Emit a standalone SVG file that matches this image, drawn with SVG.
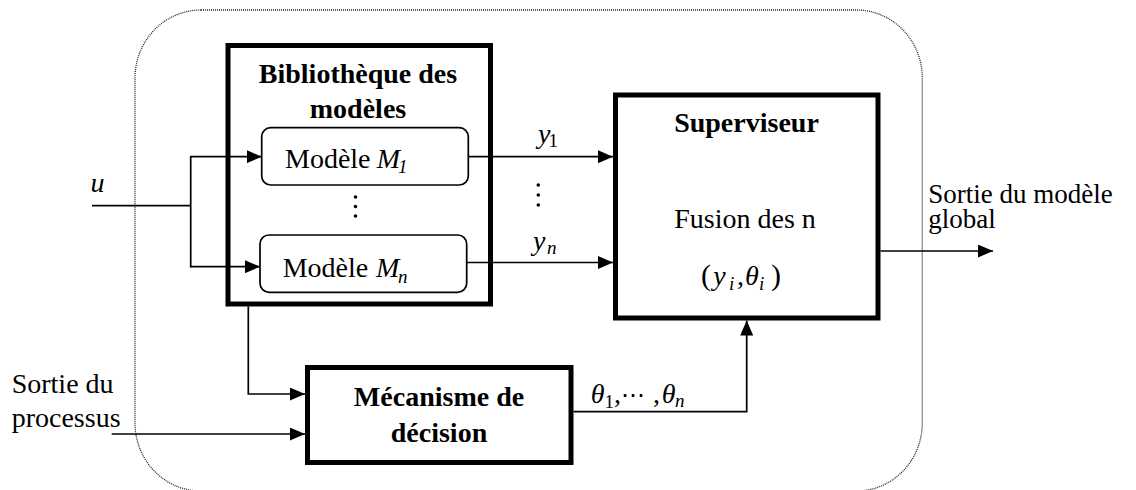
<svg xmlns="http://www.w3.org/2000/svg" width="1136" height="490" viewBox="0 0 1136 490">
<defs>
<marker id="arr" viewBox="0 0 15 13" refX="15" refY="6.5" markerWidth="15" markerHeight="13" markerUnits="userSpaceOnUse" orient="auto"><path d="M0,0 L15,6.5 L0,13 z" fill="#000"/></marker>
</defs>
<rect id="container" x="135" y="10" width="787.3" height="481" rx="66" ry="68" fill="none" stroke="#222" stroke-width="1.3" stroke-dasharray="1 1"/>
<g id="bibliotheque">
<rect x="228" y="45.5" width="262.5" height="258.5" fill="#fff" stroke="#000" stroke-width="5"/>
<text font-family="Liberation Serif" font-size="28" font-weight="bold" x="358" y="83" text-anchor="middle">Bibliothèque des</text>
<text font-family="Liberation Serif" font-size="28" font-weight="bold" x="358" y="118" text-anchor="middle">modèles</text>
</g>
<g id="modele1">
<rect x="261.7" y="127.7" width="206.6" height="57.3" rx="9" fill="#fff" stroke="#000" stroke-width="1.7"/>
<text font-family="Liberation Serif" font-size="28" x="285" y="167.7">Modèle <tspan font-style="italic" x="376.7">M</tspan><tspan font-style="italic" font-size="19" x="398" y="173">1</tspan></text>
</g>
<g id="dots1" fill="#000">
<circle cx="355.5" cy="197" r="1.8"/>
<circle cx="355.5" cy="206.5" r="1.8"/>
<circle cx="355.5" cy="216" r="1.8"/>
</g>
<g id="modelen">
<rect x="260" y="235" width="206.7" height="57.3" rx="9" fill="#fff" stroke="#000" stroke-width="1.7"/>
<text font-family="Liberation Serif" font-size="28" x="282.7" y="276.7">Modèle <tspan font-style="italic" x="376">M</tspan><tspan font-style="italic" font-size="19" x="398" y="282.7">n</tspan></text>
</g>
<g id="superviseur">
<rect x="615.5" y="95" width="262.5" height="223" fill="#fff" stroke="#000" stroke-width="5"/>
<text font-family="Liberation Serif" font-size="28" font-weight="bold" x="746.5" y="132.3" text-anchor="middle">Superviseur</text>
<text font-family="Liberation Serif" font-size="28" x="745" y="228.3" text-anchor="middle">Fusion des n</text>
<text font-family="Liberation Serif" font-size="28" y="285"><tspan x="701" font-size="30">(</tspan><tspan font-style="italic" x="713.3">y</tspan><tspan font-style="italic" font-size="19" x="729" y="290">i</tspan><tspan x="737" y="285">,</tspan><tspan font-style="italic" x="745">θ</tspan><tspan font-style="italic" font-size="19" x="759" y="290">i</tspan><tspan x="771" y="285" font-size="30">)</tspan></text>
</g>
<g id="mecanisme">
<rect x="307.5" y="367.5" width="263.5" height="95" fill="#fff" stroke="#000" stroke-width="5"/>
<text font-family="Liberation Serif" font-size="28" font-weight="bold" x="439" y="406" text-anchor="middle">Mécanisme de</text>
<text font-family="Liberation Serif" font-size="28" font-weight="bold" x="439" y="442" text-anchor="middle">décision</text>
</g>
<g id="labels">
<text font-family="Liberation Serif" font-size="28" font-style="italic" x="90.5" y="191.7">u</text>
<text font-family="Liberation Serif" font-size="28" font-style="italic" x="538" y="143">y<tspan font-size="19" font-style="normal" x="548.5" y="147">1</tspan></text>
<g id="dots2" fill="#000">
<circle cx="538.3" cy="185" r="1.8"/>
<circle cx="538.3" cy="195" r="1.8"/>
<circle cx="538.3" cy="205" r="1.8"/>
</g>
<text font-family="Liberation Serif" font-size="28" font-style="italic" x="533" y="250">y<tspan font-size="19" x="547" y="254">n</tspan></text>
<text font-family="Liberation Serif" font-size="28" y="403.3"><tspan font-style="italic" x="590.7">θ</tspan><tspan font-size="19" x="604.5" y="408">1</tspan><tspan x="614" y="403.3">,</tspan><tspan x="621" y="403.3" font-size="24">⋯</tspan><tspan x="653" y="403.3">,</tspan><tspan font-style="italic" x="661.7" y="403.3">θ</tspan><tspan font-style="italic" font-size="19" x="675" y="407">n</tspan></text>
<text font-family="Liberation Serif" font-size="27" x="928.3" y="203">Sortie du modèle</text>
<text font-family="Liberation Serif" font-size="27" x="928.3" y="228">global</text>
<text font-family="Liberation Serif" font-size="28" x="11.7" y="393.3">Sortie du</text>
<text font-family="Liberation Serif" font-size="28" x="11.7" y="426.7">processus</text>
</g>
<g id="connectors" fill="none" stroke="#000" stroke-width="1.7">
<path d="M92 205.7 H190.7"/>
<path d="M190.7 155.9 V267.5"/>
<path d="M190.7 156.7 H261.7" marker-end="url(#arr)"/>
<path d="M190.7 266.7 H260" marker-end="url(#arr)"/>
<path d="M468.3 156.7 H613" marker-end="url(#arr)"/>
<path d="M466.7 262.5 H613" marker-end="url(#arr)"/>
<path d="M880.5 251 H993" marker-end="url(#arr)"/>
<path d="M248.3 306.5 V394 H305" marker-end="url(#arr)"/>
<path d="M111.7 434 H305" marker-end="url(#arr)"/>
<path d="M573.5 411.7 H746.7 V320.5" marker-end="url(#arr)"/>
</g>
</svg>
